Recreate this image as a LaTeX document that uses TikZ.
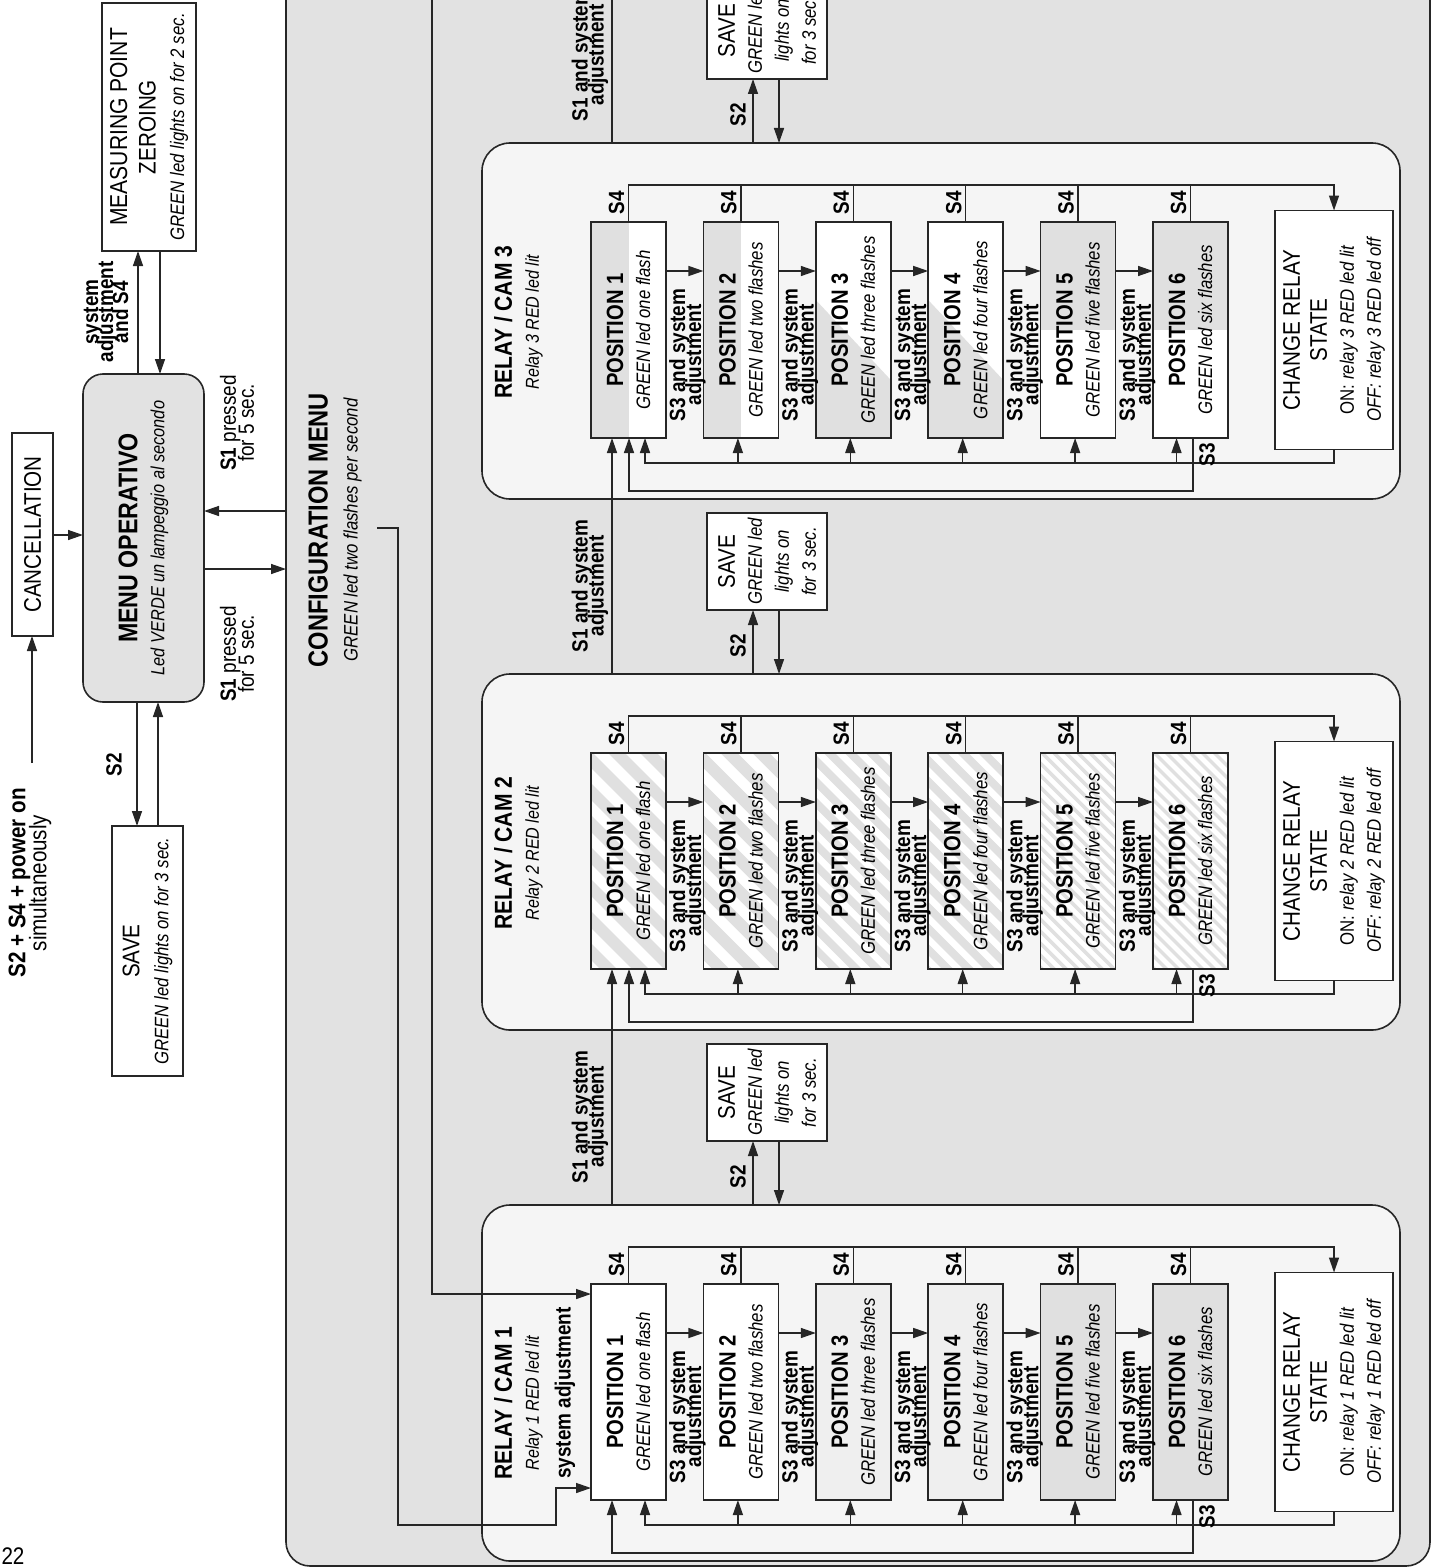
\documentclass[tikz,border=0pt]{standalone}
\usepackage{fontspec}
\setmainfont{Liberation Sans}[FakeStretch=0.86]
\usepackage{graphicx}
\usetikzlibrary{arrows.meta}

\definecolor{cfggray}{HTML}{E2E2E2}
\definecolor{relaybg}{HTML}{F5F5F5}
\definecolor{ledgray}{HTML}{E0E0E0}
\definecolor{ledlight}{HTML}{EFEFEF}
\definecolor{ink}{HTML}{262626}

% centred stack of lines with a fixed baseline distance
\newcommand\txtlines[2]{\vbox{\baselineskip=#1\relax\lineskiplimit=-100pt\lineskip=0pt\halign{\hfil##\hfil\cr#2\crcr}}}
\newcommand\fPos{\fontsize{23.5}{27}\selectfont\bfseries}
\newcommand\fDesc{\fontsize{19.5}{27}\selectfont\itshape}
\newcommand\fReg{\fontsize{24}{27}\selectfont}
\newcommand\fLbl{\fontsize{22}{16}\selectfont\bfseries}
\newcommand\fTitle{\fontsize{24.5}{27}\selectfont\bfseries}
\newcommand\fSub{\fontsize{18.7}{27}\selectfont\itshape}
\newcommand\fHead{\fontsize{27.5}{30}\selectfont\bfseries}

\tikzset{
  wire/.style={draw=ink, line width=1.4pt},
  arr/.style={wire, -{Triangle[length=15pt,width=10pt]}},
  boxline/.style={draw=ink, line width=1.6pt, inner sep=0pt, outer sep=0pt},
  plainbox/.style={boxline, fill=white},
  cfgbox/.style={boxline, fill=cfggray, rounded corners=24pt, minimum width=1144pt, minimum height=1616pt},
  menubox/.style={boxline, fill=cfggray, rounded corners=20pt, minimum width=121pt, minimum height=328pt},
  relaybox/.style={boxline, fill=relaybg, rounded corners=28pt, minimum width=918pt, minimum height=356pt},
  posbox/.style={plainbox, minimum width=75pt, minimum height=216pt},
  chbox/.style={plainbox, minimum width=118pt, minimum height=239pt},
  savebox/.style={plainbox, minimum width=120pt, minimum height=97pt},
  lbl/.style={font=\fLbl, inner sep=0pt, rotate=90},
  txt/.style={inner sep=0pt, rotate=90},
  halfleft/.style={path picture={\fill[ledgray] (path picture bounding box.south west) rectangle (path picture bounding box.north);}},
  halftop/.style={path picture={\fill[ledgray] (path picture bounding box.north west) rectangle (path picture bounding box.east);}},
  diagfill/.style={path picture={\fill[ledgray] ([yshift=-78pt]path picture bounding box.north west) -- ([yshift=-158pt]path picture bounding box.north east) -- (path picture bounding box.south east) -- (path picture bounding box.south west) -- cycle;}},
  hatch/.style 2 args={path picture={\foreach \k in {-24,...,24} \draw[ledgray, line width=#2] ([xshift=\k*#1]path picture bounding box.center) ++(-160pt,160pt) -- ++(320pt,-320pt);}},
}

% one position box
\newcommand\posnode[6]{\node[posbox,#4] (#1) at (#2,#3) {\rotatebox{90}{\txtlines{27pt}{{\fPos POSITION #5}\cr{\fDesc GREEN led #6}}}};}

% the six positions and the relay state box of one relay
\newcommand\posrow[8]{%
  \posnode{r#1p1}{628.5}{#2}{#3}{1}{one flash}
  \posnode{r#1p2}{740.9}{#2}{#4}{2}{two flashes}
  \posnode{r#1p3}{853.3}{#2}{#5}{3}{three flashes}
  \posnode{r#1p4}{965.7}{#2}{#6}{4}{four flashes}
  \posnode{r#1p5}{1078.1}{#2}{#7}{5}{five flashes}
  \posnode{r#1p6}{1190.5}{#2}{#8}{6}{six flashes}
  \node[chbox] (r#1ch) at (1334,#2) {\rotatebox{90}{\txtlines{27pt}{{\fReg CHANGE RELAY}\cr{\fReg STATE}\cr{\fDesc\upshape ON: \itshape relay #1 RED led lit}\cr{\fDesc OFF: relay #1 RED led off}}}};
}

% buses and loops inside one relay
\newcommand\relaywires[3]{%
  \pgfmathsetmacro\yb{#2+42}%
  \pgfmathsetmacro\ya{#2+128}%
  \pgfmathsetmacro\yi{#2+320}%
  \pgfmathsetmacro\yo{#2+348}%
  \pgfmathsetmacro\ys{#2+60}%
  \pgfmathsetmacro\yl{#2+212}%
  \pgfmathsetmacro\yt{#2+312}%
  \draw[arr] (r#1p1.north) |- (r#1ch.north |- 0,\yb) -- (r#1ch.north);
  \foreach \i in {2,...,6}{\draw[wire] (r#1p\i.north) -- (r#1p\i.north |- 0,\yb);}
  \foreach \i in {1,...,6}{\pgfmathsetmacro\xx{616.5+112.4*(\i-1)}\node[lbl] (r#1sf\i) at (\xx,\ys) {S4};}
  \foreach \i in {1,...,5}{\pgfmathtruncatemacro\j{\i+1}%
    \draw[arr] (r#1p\i.east |- 0,\ya) -- (r#1p\j.west |- 0,\ya);
    \pgfmathsetmacro\xx{687.5+112.4*(\i-1)}%
    \node[lbl] (r#1sl\i) at (\xx,\yl) {\txtlines{16pt}{S3 and system\cr adjustment}};}
  \draw[arr] (r#1ch.south) -- (r#1ch.south |- 0,\yi) -- (645,\yi) -- (r#1p1.south -| 645,0);
  \foreach \i/\dx in {2/-3,3/-3,4/-3,5/-3,6/-14}{\pgfmathsetmacro\xx{628.5+112.4*(\i-1)+\dx}%
    \draw[arr] (\xx,\yi) -- (r#1p\i.south -| \xx,0);}
  \draw[arr] (r#1p6.south -| 1193,0) -- (1193,\yo) -- (#3,\yo) -- (r#1p1.south -| #3,0);
  \node[lbl] (r#1sth) at (1207,\yt) {S3};
}

% save box and S1/S2 links above one relay
\newcommand\saveblock[2]{%
  \pgfmathsetmacro\ysv{#2-112.5}%
  \pgfmathsetmacro\ysl{#2-88}%
  \pgfmathsetmacro\yst{#2-28}%
  \node[savebox] (save#1) at (767,\ysv) {\rotatebox{90}{\txtlines{27pt}{{\fReg SAVE}\cr{\fDesc GREEN led}\cr{\fDesc lights on}\cr{\fDesc for 3 sec.}}}};
  \draw[arr] (relay#1.north -| 753,0) -- (save#1.south -| 753,0);
  \draw[arr] (save#1.south -| 779,0) -- (relay#1.north -| 779,0);
  \node[lbl] (stwo#1) at (738,\yst) {S2};
  \node[lbl] (sone#1) at (590,\ysl) {\txtlines{16pt}{S1 and system\cr adjustment}};
}

\begin{document}
\begin{tikzpicture}[x=1pt,y=-1pt]
\useasboundingbox (0,0) rectangle (1437,1568);
\clip (0,0) rectangle (1437,1568);

% configuration menu area
\node[cfgbox] (cfg) at (858,758) {};

% operating menu and its neighbours
\node[plainbox, minimum width=94pt, minimum height=248pt] (meas) at (149,127)
  {\rotatebox{90}{\txtlines{28.5pt}{{\fontsize{24.5}{27}\selectfont MEASURING POINT}\cr{\fReg ZEROING}\cr{\fDesc GREEN led lights on for 2 sec.}}}};
\node[menubox] (menu) at (143.5,538)
  {\rotatebox{90}{\txtlines{27pt}{{\fontsize{27}{27}\selectfont\bfseries MENU OPERATIVO}\cr{\fontsize{19}{27}\selectfont\itshape Led VERDE un lampeggio al secondo}}}};
\node[plainbox, minimum width=41pt, minimum height=203pt] (cancel) at (32.5,534.5)
  {\rotatebox{90}{\fReg CANCELLATION}};
\node[plainbox, minimum width=71pt, minimum height=250pt] (save0) at (147.5,951)
  {\rotatebox{90}{\txtlines{29pt}{{\fReg SAVE}\cr{\fDesc GREEN led lights on for 3 sec.}}}};
\node[txt] (start) at (30,883)
  {\txtlines{21pt}{{\fontsize{24}{21}\selectfont\bfseries S2 + S4 + power on}\cr{\fontsize{24}{21}\selectfont simultaneously}}};
\coordinate (startpt) at (32,763);

\node[lbl] (lblzero) at (106,312) {\txtlines{15pt}{system\cr adjustment\cr and S4}};
\node[lbl] (lblsave) at (114,765) {S2};
\node[txt, font=\fontsize{22}{18}\selectfont] (lblback) at (237,423) {\txtlines{18pt}{{\bfseries S1} pressed\cr for 5 sec.}};
\node[txt, font=\fontsize{22}{18}\selectfont] (lblgo) at (237,654) {\txtlines{18pt}{{\bfseries S1} pressed\cr for 5 sec.}};
\node[txt] (cfgtitle) at (335,530) {\txtlines{30pt}{{\fHead CONFIGURATION MENU}\cr{\fDesc GREEN led two flashes per second}}};
\node[inner sep=0pt] (pagenum) at (13,1556) {\fReg 22};

\draw[arr] (startpt) -- (cancel.south -| startpt);
\draw[arr] (cancel.east |- 0,535) -- (menu.west |- 0,535);
\draw[arr] (menu.north -| 138,0) -- (meas.south -| 138,0);
\draw[arr] (meas.south -| 160,0) -- (menu.north -| 160,0);
\draw[arr] (menu.south -| 137,0) -- (save0.north -| 137,0);
\draw[arr] (save0.north -| 158,0) -- (menu.south -| 158,0);
\draw[arr] (menu.east |- 0,569) -- (cfg.west |- 0,569);
\draw[arr] (cfg.west |- 0,511) -- (menu.east |- 0,511);

% relay panels
\node[relaybox] (relay1) at (941,1383) {};
\node[relaybox] (relay2) at (941,852) {};
\node[relaybox] (relay3) at (941,321) {};

\node[txt] (r1title) at (518.5,1403) {\txtlines{27pt}{{\fTitle RELAY / CAM 1}\cr{\fSub Relay 1 RED led lit}}};
\node[txt] (r2title) at (518.5,853) {\txtlines{27pt}{{\fTitle RELAY / CAM 2}\cr{\fSub Relay 2 RED led lit}}};
\node[txt] (r3title) at (518.5,322) {\txtlines{27pt}{{\fTitle RELAY / CAM 3}\cr{\fSub Relay 3 RED led lit}}};
\node[lbl] (r1sys) at (565,1393) {system adjustment};

\posrow{1}{1392}{}{}{fill=ledlight}{fill=ledlight}{fill=ledgray}{fill=ledgray}
\posrow{2}{861}{hatch={32pt}{12pt}}{hatch={32pt}{12pt}}{hatch={21pt}{8pt}}{hatch={21pt}{8pt}}{hatch={12pt}{3.5pt}}{hatch={12pt}{3.5pt}}
\posrow{3}{330}{halfleft}{halfleft}{diagfill}{diagfill}{halftop}{halftop}

\relaywires{1}{1205}{612}
\relaywires{2}{674}{629}
\relaywires{3}{143}{629}

\saveblock{1}{1205}
\saveblock{2}{674}
\saveblock{3}{143}

\draw[arr] (relay1.north -| 612,0) -- (r2p1.south -| 612,0);
\draw[arr] (relay2.north -| 612,0) -- (r3p1.south -| 612,0);
\coordinate (nextpage) at (612,-10);
\draw[wire] (relay3.north -| 612,0) -- (nextpage);

% entries into the first relay
\coordinate (cfgtap) at (377,528);
\draw[arr] (cfgtap) -- (398,528) -- (398,1525) -- (556,1525) -- (556,1488) -- (r1p1.west |- 0,1488);
\coordinate (prevpage) at (432,-10);
\draw[arr] (prevpage) -- (432,1294) -- (r1p1.west |- 0,1294);
\end{tikzpicture}
\end{document}
